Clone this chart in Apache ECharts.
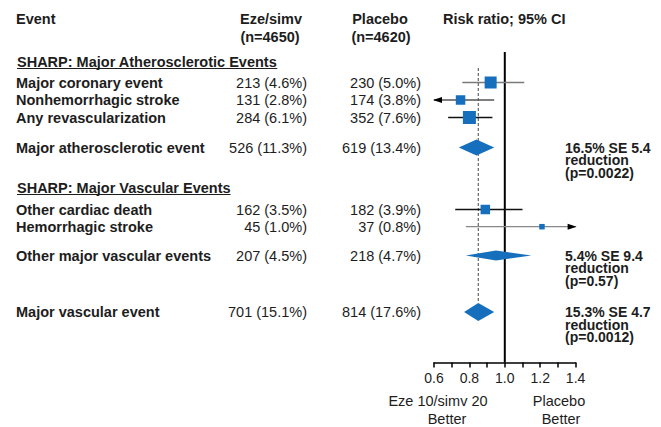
<!DOCTYPE html>
<html><head><meta charset="utf-8">
<script src="https://cdn.jsdelivr.net/npm/echarts@6/dist/echarts.min.js"></script>
<style>html,body{margin:0;padding:0;background:#fff}#c{width:661px;height:427px}</style>
</head><body><div id="c"></div>
<script>
// ---------------- DATA ----------------
const events = ['Major coronary event','Nonhemorrhagic stroke','Any revascularization','Major atherosclerotic event',
                'Other cardiac death','Hemorrhagic stroke','Other major vascular events','Major vascular event'];
const ezeN = [213,131,284,526,162,45,207,701];
const ezePct = [4.6,2.8,6.1,11.3,3.5,1.0,4.5,15.1];
const placeboN = [230,174,352,619,182,37,218,814];
const placeboPct = [5.0,3.8,7.6,13.4,3.9,0.8,4.7,17.6];
const riskRatio = [0.92,0.75,0.80,0.84,0.89,1.21,0.95,0.85];
const ciLow  = [0.76,0.56,0.68,0.74,0.72,0.78,0.78,0.77];
const ciHigh = [1.11,0.94,0.93,0.94,1.10,1.95,1.15,0.94];
const isSummary = [false,false,false,true,false,false,true,true];
const summaryLines = [null,null,null,['16.5% SE 5.4','reduction','(p=0.0022)'],
                      null,null,['5.4% SE 9.4','reduction','(p=0.57)'],
                      [ '15.3% SE 4.7','reduction','(p=0.0012)']];
const sections = ['SHARP: Major Atherosclerotic Events','SHARP: Major Vascular Events'];
const overallRR = 0.85;
const nullRR = 1.0;
const xMin = 0.6, xMax = 1.4, xStep = 0.1;
const headers = {event:'Event', eze:['Eze/simv','(n=4650)'], placebo:['Placebo','(n=4620)'], ci:'Risk ratio; 95% CI'};
const footLeft = ['Eze 10/simv 20','Better'];
const footRight = ['Placebo','Better'];

// ---------------- LAYOUT / STYLE ----------------
const rowY = [82.5,100,117.5,147.5,209.5,226.7,255.5,312];
const sectionY = [62,188];
const markSize = [12,9.5,13,16,9.5,5.5,10,18]; // square side / diamond height
const ciColor = ['#7a7a7a','#555','#111','#111','#111','#888','#111','#111'];
const BLUE = '#156fbd';
const TXT = '#1d1d1d';
const FONT = '"Liberation Sans", Arial, sans-serif';
const BOLD = 'bold 14.5px ' + FONT;
const BOLD_S = 'bold 14px ' + FONT;
const REG = '14.5px ' + FONT;

const mctx = document.createElement('canvas').getContext('2d');
function textW(t, f){ mctx.font = f; return mctx.measureText(t).width; }

const graphics = [];
function txt(x,y,t,font,align){
  graphics.push({type:'text', x:x, y:y, silent:true,
    style:{text:t, font:font, fill:TXT, textAlign:align||'left', textVerticalAlign:'middle'}});
}
// headers
txt(16,19,headers.event,BOLD);
txt(271,19,headers.eze[0],BOLD,'center');
txt(270,37,headers.eze[1],BOLD,'center');
txt(380,19,headers.placebo[0],BOLD,'center');
txt(381,37,headers.placebo[1],BOLD,'center');
txt(443,19,headers.ci,BOLD);
// sections with underline
sections.forEach((s,i)=>{
  txt(17,sectionY[i],s,BOLD);
  const w = textW(s,BOLD);
  graphics.push({type:'line', silent:true, shape:{x1:17,y1:sectionY[i]+6.5,x2:17+w,y2:sectionY[i]+6.5},
    style:{stroke:TXT,lineWidth:1}});
});
// rows
events.forEach((e,i)=>{
  txt(16,rowY[i],e,BOLD);
  txt(307,rowY[i],ezeN[i]+' ('+ezePct[i].toFixed(1)+'%)',REG,'right');
  txt(421,rowY[i],placeboN[i]+' ('+placeboPct[i].toFixed(1)+'%)',REG,'right');
  if (summaryLines[i]) summaryLines[i].forEach((l,k)=>txt(565,rowY[i]+k*12.5,l,BOLD_S));
});
// footer
txt(438,401,footLeft[0],REG,'center');
txt(447,419,footLeft[1],REG,'center');
txt(559,401,footRight[0],REG,'center');
txt(561,419,footRight[1],REG,'center');

const rowData = events.map((e,i)=>[riskRatio[i], rowY[i], ciLow[i], ciHigh[i], i]);

function renderRow(params, api){
  const rr = api.value(0), y = api.value(1), lo = api.value(2), hi = api.value(3), i = api.value(4);
  const children = [];
  const pc = api.coord([rr,y]);
  if (isSummary[i]) {
    const pl = api.coord([lo,y]), ph = api.coord([hi,y]);
    const h = markSize[i]/2;
    children.push({type:'polygon', shape:{points:[[pl[0],y],[pc[0],y-h],[ph[0],y],[pc[0],y+h]]}, style:{fill:BLUE}});
  } else {
    const clo = Math.max(lo,xMin), chi = Math.min(hi,xMax);
    const pl = api.coord([clo,y]), ph = api.coord([chi,y]);
    children.push({type:'line', shape:{x1:pl[0],y1:y,x2:ph[0],y2:y}, style:{stroke:ciColor[i],lineWidth:1.3}});
    if (lo < xMin) children.push({type:'polygon', shape:{points:[[pl[0]-1,y],[pl[0]+8,y-3],[pl[0]+8,y+3]]}, style:{fill:'#000'}});
    if (hi > xMax) children.push({type:'polygon', shape:{points:[[ph[0]+1,y],[ph[0]-8,y-3],[ph[0]-8,y+3]]}, style:{fill:'#000'}});
    const s = markSize[i];
    children.push({type:'rect', shape:{x:pc[0]-s/2,y:y-s/2,width:s,height:s}, style:{fill:BLUE}});
  }
  return {type:'group', children};
}

const refData = [[nullRR,52,362.5,0],[overallRR,68,302,1]];
function renderRef(params, api){
  const x = api.value(0), y1 = api.value(1), y2 = api.value(2), dashed = api.value(3);
  const p1 = api.coord([x,y1]), p2 = api.coord([x,y2]);
  return {type:'line', shape:{x1:p1[0],y1:p1[1],x2:p2[0],y2:p2[1]},
    style: dashed ? {stroke:'#444',lineWidth:1,lineDash:[3,2]} : {stroke:'#000',lineWidth:2}};
}

const chart = echarts.init(document.getElementById('c'), null, {renderer:'svg'});
chart.setOption({
  animation:false,
  grid:{left:434, right:661-575.6, top:10, bottom:427-362.5},
  xAxis:{type:'value', min:xMin, max:xMax, interval:xStep,
    axisLine:{show:true, onZero:false, lineStyle:{color:'#000', width:1.5}},
    axisTick:{show:true, length:5, lineStyle:{color:'#000', width:1.5}},
    splitLine:{show:false},
    axisLabel:{margin:8, color:TXT, fontSize:14, fontFamily:FONT,
      formatter:v=>{const k=Math.round(v*10); return k%2===0 ? (k/10).toFixed(1) : '';}}},
  yAxis:{type:'value', inverse:true, min:10, max:362.5, show:false},
  series:[
    {type:'custom', renderItem:renderRef, data:refData, clip:false, silent:true, z:1},
    {type:'custom', renderItem:renderRow, data:rowData, clip:false, silent:true, z:2}
  ],
  graphic: graphics
});
</script></body></html>
